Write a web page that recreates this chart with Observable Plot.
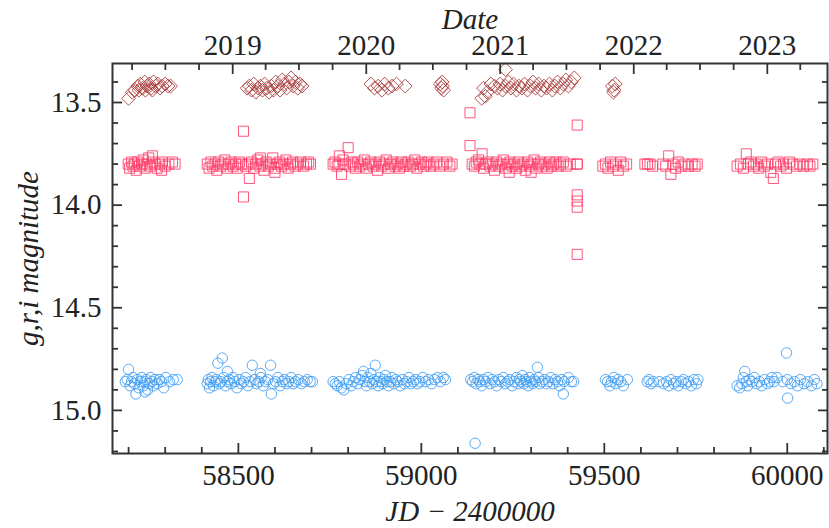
<!DOCTYPE html>
<html>
<head>
<meta charset="utf-8">
<script src="https://cdn.jsdelivr.net/npm/d3@7"></script>
<script src="https://cdn.jsdelivr.net/npm/@observablehq/plot@0.6"></script>
<style>
  html, body { margin: 0; padding: 0; background: #fff; }
</style>
</head>
<body>
<div id="chart"></div>
<script>
// ---- data: i band (diamonds) ----
const iJD = [58200,58210,58218,58225,58232,58238,58244,58250,58256,58262,58268,58274,58280,58286,58292,58300,58308,58315,58228,58246,58265,
  58524,58530,58536,58542,58548,58554,58560,58566,58572,58578,58584,58590,58596,58602,58608,58614,58620,58626,58632,58638,58644,58650,58656,58662,58668,58674,
  58862,58872,58882,58892,58900,58910,58920,58932,58956,
  59052,59055,59058,59061,59057,
  59165,59175,59180,59170,59190,59230,
  59200,59208,59215,59222,59230,59238,59245,59252,59260,59267,59275,59282,59290,59298,59305,59312,59320,59328,59335,59342,59350,59358,59365,59372,59380,59388,59395,59402,59410,59418,
  59522,59527,59530,59525];
const iMag = [13.48,13.45,13.44,13.42,13.41,13.43,13.40,13.42,13.41,13.43,13.40,13.42,13.41,13.43,13.42,13.41,13.42,13.42,13.44,13.44,13.44,
  13.43,13.42,13.44,13.41,13.45,13.43,13.42,13.44,13.41,13.43,13.45,13.42,13.44,13.40,13.42,13.44,13.39,13.41,13.43,13.40,13.38,13.42,13.40,13.43,13.41,13.42,
  13.41,13.43,13.42,13.44,13.41,13.43,13.42,13.41,13.42,
  13.41,13.43,13.42,13.44,13.40,
  13.48,13.47,13.45,13.43,13.41,13.34,
  13.42,13.43,13.41,13.44,13.42,13.40,13.43,13.41,13.44,13.42,13.43,13.41,13.44,13.42,13.40,13.43,13.41,13.44,13.42,13.43,13.41,13.44,13.42,13.40,13.43,13.41,13.39,13.42,13.40,13.38,
  13.42,13.44,13.41,13.45];

// ---- data: r band (squares) ----
const rJD = [58199,58203,58208,58212,58216,58221,58225,58230,58236,58240,58245,58250,58255,58260,58266,58272,58278,58285,58292,58300,58310,58320,58327,58290,58265,
  58415,58420,58425,58430,58436,58441,58446,58452,58458,58463,58469,58474,58480,58486,58492,58497,58503,58509,58514,58514,58520,58526,58530,58536,58542,58548,58553,58559,58565,58570,58576,58582,58588,58594,58600,58606,58612,58618,58624,58630,58636,58642,58648,58655,58662,58670,58678,58686,58692,58697,58600,58560,
  58759,58764,58770,58775,58782,58786,58792,58800,58805,58810,58815,58820,58826,58832,58838,58844,58850,58856,58862,58868,58874,58880,58886,58892,58898,58904,58910,58916,58922,58928,58934,58940,58946,58952,58958,58964,58970,58976,58982,58988,58994,59000,59006,59012,59018,59026,59034,59042,59050,59060,59070,59078,59084,58776,
  59133,59133,
  59139,59145,59150,59156,59160,59166,59170,59176,59182,59188,59194,59200,59206,59212,59218,59224,59230,59236,59242,59248,59254,59260,59266,59272,59278,59284,59290,59296,59302,59308,59314,59320,59326,59332,59338,59344,59350,59356,59362,59368,59374,59380,59388,59396,59407,59300,59240,
  59426,59426,59426,59426,59426,59426,59426,
  59496,59503,59510,59517,59524,59530,59538,59545,59552,59561,
  59611,59618,59625,59632,59660,59668,59676,59682,59688,59695,59702,59710,59720,59730,59740,59748,59754,
  59863,59872,59880,59888,59894,59900,59908,59915,59922,59930,59938,59946,59955,59962,59968,59975,59982,59990,59998,60006,60015,60025,60035,60045,60055,60062,60070];
const rMag = [13.80,13.82,13.79,13.81,13.80,13.83,13.79,13.81,13.80,13.78,13.82,13.80,13.77,13.81,13.79,13.80,13.82,13.80,13.79,13.81,13.80,13.79,13.80,13.83,13.76,
  13.80,13.82,13.79,13.81,13.80,13.83,13.79,13.81,13.80,13.78,13.82,13.80,13.79,13.81,13.80,13.82,13.79,13.80,13.64,13.96,13.81,13.80,13.87,13.79,13.82,13.80,13.78,13.81,13.80,13.83,13.79,13.81,13.80,13.77,13.82,13.80,13.79,13.81,13.80,13.78,13.82,13.80,13.79,13.81,13.80,13.79,13.81,13.80,13.79,13.80,13.84,13.77,
  13.80,13.79,13.81,13.80,13.85,13.78,13.80,13.72,13.81,13.79,13.80,13.82,13.79,13.81,13.80,13.78,13.82,13.80,13.79,13.81,13.80,13.83,13.79,13.81,13.80,13.78,13.82,13.80,13.79,13.81,13.80,13.82,13.79,13.81,13.80,13.79,13.81,13.80,13.78,13.82,13.80,13.79,13.81,13.80,13.79,13.81,13.80,13.79,13.81,13.80,13.79,13.81,13.80,13.76,
  13.55,13.71,
  13.80,13.81,13.79,13.78,13.80,13.75,13.82,13.80,13.79,13.81,13.80,13.83,13.79,13.81,13.80,13.78,13.82,13.80,13.79,13.81,13.80,13.82,13.79,13.81,13.80,13.83,13.79,13.81,13.80,13.78,13.82,13.80,13.79,13.81,13.80,13.82,13.79,13.81,13.80,13.79,13.81,13.80,13.79,13.81,13.80,13.84,13.84,
  13.61,13.80,13.80,13.95,13.98,14.01,14.24,
  13.81,13.80,13.82,13.79,13.81,13.80,13.83,13.79,13.81,13.80,
  13.80,13.80,13.80,13.81,13.80,13.81,13.76,13.85,13.80,13.82,13.79,13.81,13.80,13.81,13.80,13.81,13.80,
  13.81,13.80,13.82,13.75,13.80,13.79,13.81,13.80,13.82,13.79,13.81,13.80,13.84,13.87,13.80,13.79,13.81,13.80,13.82,13.79,13.80,13.81,13.80,13.81,13.80,13.81,13.80];

// ---- data: g band (circles) ----
const gJD = [58191,58196,58200,58204,58208,58212,58216,58220,58224,58228,58232,58236,58240,58244,58248,58252,58256,58260,58264,58268,58272,58278,58284,58290,58296,58302,58312,58322,58333,58245,
  58415,58418,58421,58424,58428,58432,58436,58440,58444,58448,58452,58456,58460,58465,58470,58475,58480,58485,58490,58496,58502,58508,58514,58520,58526,58532,58538,58544,58550,58556,58562,58568,58574,58580,58588,58590,58596,58602,58608,58614,58620,58626,58632,58638,58644,58650,58656,58664,58672,58680,58688,58696,58702,58470,58560,
  58759,58765,58770,58776,58782,58788,58795,58802,58808,58814,58820,58826,58832,58838,58842,58846,58850,58854,58858,58862,58866,58870,58874,58878,58882,58886,58890,58894,58898,58902,58906,58910,58915,58920,58925,58930,58936,58942,58948,58954,58960,58966,58972,58978,58984,58990,58996,59004,59012,59020,59028,59036,59044,59052,59060,59066,
  59135,59140,59145,59150,59155,59160,59147,59165,59170,59176,59182,59188,59194,59200,59206,59212,59218,59224,59230,59236,59242,59248,59254,59260,59264,59268,59272,59276,59280,59284,59288,59292,59296,59300,59304,59308,59312,59317,59320,59324,59330,59336,59342,59348,59354,59360,59366,59372,59378,59384,59390,59388,59402,59410,59416,
  59503,59509,59515,59520,59526,59532,59538,59545,59552,59563,
  59617,59622,59628,59634,59650,59662,59670,59676,59682,59690,59696,59702,59710,59716,59722,59730,59738,59745,59752,59756,
  59863,59870,59876,59880,59884,59888,59892,59896,59904,59910,59916,59924,59930,59938,59946,59952,59958,59964,59972,59998,60001,59988,60000,60010,60020,60028,60036,60046,60056,60066,60074,60081];
const gMag = [14.86,14.85,14.80,14.88,14.86,14.84,14.87,14.92,14.85,14.89,14.86,14.84,14.88,14.86,14.85,14.90,14.87,14.84,14.86,14.88,14.85,14.87,14.85,14.86,14.89,14.84,14.86,14.85,14.85,14.91,
  14.87,14.85,14.89,14.86,14.84,14.88,14.86,14.85,14.77,14.87,14.86,14.745,14.84,14.88,14.86,14.85,14.87,14.84,14.86,14.89,14.85,14.87,14.86,14.84,14.88,14.86,14.78,14.85,14.87,14.86,14.84,14.88,14.86,14.85,14.78,14.92,14.87,14.86,14.84,14.88,14.86,14.85,14.87,14.86,14.84,14.87,14.86,14.85,14.87,14.86,14.85,14.86,14.86,14.81,14.82,
  14.86,14.87,14.88,14.86,14.89,14.90,14.87,14.85,14.88,14.86,14.84,14.87,14.85,14.83,14.81,14.86,14.88,14.84,14.86,14.82,14.87,14.85,14.78,14.86,14.88,14.84,14.86,14.87,14.85,14.83,14.86,14.88,14.86,14.84,14.87,14.85,14.86,14.88,14.85,14.87,14.86,14.84,14.87,14.86,14.85,14.87,14.86,14.84,14.86,14.85,14.87,14.85,14.84,14.86,14.84,14.85,
  14.85,14.86,14.84,14.87,14.85,14.86,15.16,14.88,14.85,14.86,14.84,14.87,14.85,14.86,14.88,14.85,14.86,14.84,14.87,14.86,14.85,14.88,14.86,14.84,14.87,14.85,14.86,14.83,14.87,14.85,14.86,14.88,14.84,14.86,14.87,14.85,14.86,14.79,14.84,14.87,14.86,14.85,14.87,14.86,14.84,14.87,14.85,14.86,14.88,14.85,14.86,14.92,14.84,14.86,14.86,
  14.85,14.86,14.88,14.86,14.84,14.87,14.85,14.86,14.88,14.85,
  14.86,14.85,14.87,14.86,14.86,14.87,14.86,14.88,14.85,14.87,14.86,14.88,14.86,14.85,14.87,14.86,14.88,14.85,14.87,14.85,
  14.88,14.89,14.87,14.84,14.81,14.86,14.88,14.85,14.86,14.84,14.87,14.86,14.88,14.85,14.87,14.86,14.84,14.86,14.84,14.72,14.94,14.86,14.85,14.87,14.86,14.88,14.85,14.87,14.86,14.88,14.85,14.87];

// ---- axes ----
const jdMajor = [58500, 59000, 59500, 60000];
const jdMinor = [58200,58300,58400,58600,58700,58800,58900,59100,59200,59300,59400,59600,59700,59800,59900,60100];
const magMajor = [13.5, 14.0, 14.5, 15.0];
const magMinor = [13.4,13.6,13.7,13.8,13.9,14.1,14.2,14.3,14.4,14.6,14.7,14.8,14.9,15.1,15.2];
const years = [2019, 2020, 2021, 2022, 2023];
const quarterMonths = [3, 6, 9];
const quarterYears = [2018, 2019, 2020, 2021, 2022, 2023];

// calendar date -> JD - 2400000
const toJD = (y, m) => Date.UTC(y, m, 1) / 86400000 + 40587.5;
const yearJD = years.map(y => toJD(y, 0));
const yearLabel = new Map(yearJD.map((j, i) => [j, String(years[i])]));
const quarterJD = quarterYears.flatMap(y => quarterMonths.map(m => toJD(y, m)));

const toRows = (jd, mag) => jd.map((j, k) => ({jd: j, mag: mag[k]}));
const iData = toRows(iJD, iMag);
const rData = toRows(rJD, rMag);
const gData = toRows(gJD, gMag);

const FONT = "Liberation Serif";
const INK = "#222";
const FS = 29;

const chart = Plot.plot({
  width: 829,
  height: 528,
  marginLeft: 112,
  marginRight: 2,
  marginTop: 63,
  marginBottom: 75,
  style: {fontFamily: FONT, fontSize: FS + "px", color: INK, background: "#fff", overflow: "visible"},
  x: {domain: [58156, 60110], label: null},
  y: {domain: [13.31, 15.21], reverse: true, label: null},
  marks: [
    // data
    Plot.dot(gData, {x: "jd", y: "mag", symbol: "circle", r: 5.2, fill: "none", stroke: "#3d9cf5", strokeWidth: 1, strokeOpacity: 0.85}),
    Plot.dot(rData, {x: "jd", y: "mag", symbol: "square2", r: 6.4, fill: "none", stroke: "#ff3864", strokeWidth: 1, strokeOpacity: 0.85}),
    Plot.dot(iData, {x: "jd", y: "mag", symbol: "diamond2", r: 6.2, fill: "none", stroke: "#a83434", strokeWidth: 1, strokeOpacity: 0.85}),
    // inward ticks
    Plot.axisX({anchor: "bottom", ticks: jdMajor, tickSize: -10, text: null, label: null, stroke: "#333", strokeWidth: 1.8}),
    Plot.axisX({anchor: "bottom", ticks: jdMinor, tickSize: -6, text: null, label: null, stroke: "#333", strokeWidth: 1.8}),
    Plot.axisX({anchor: "top", ticks: yearJD, tickSize: -10, text: null, label: null, stroke: "#333", strokeWidth: 1.8}),
    Plot.axisX({anchor: "top", ticks: quarterJD, tickSize: -6, text: null, label: null, stroke: "#333", strokeWidth: 1.8}),
    Plot.axisY({anchor: "left", ticks: magMajor, tickSize: -10, text: null, label: null, stroke: "#333", strokeWidth: 1.8}),
    Plot.axisY({anchor: "left", ticks: magMinor, tickSize: -6, text: null, label: null, stroke: "#333", strokeWidth: 1.8}),
    Plot.axisY({anchor: "right", ticks: magMajor, tickSize: -10, text: null, label: null, stroke: "#333", strokeWidth: 1.8}),
    Plot.axisY({anchor: "right", ticks: magMinor, tickSize: -6, text: null, label: null, stroke: "#333", strokeWidth: 1.8}),
    // tick labels
    Plot.axisX({anchor: "bottom", ticks: jdMajor, tickSize: 0, tickPadding: 11, tickFormat: d => String(d), label: null, fontSize: FS, fill: INK}),
    Plot.axisX({anchor: "top", ticks: yearJD, tickSize: 0, tickPadding: 9, tickFormat: d => yearLabel.get(d), label: null, fontSize: FS, fill: INK}),
    Plot.axisY({anchor: "left", ticks: magMajor, tickSize: 0, tickPadding: 11, tickFormat: d => d.toFixed(1), label: null, fontSize: FS, fill: INK}),
    Plot.frame({stroke: "#333", strokeWidth: 2}),
    // axis titles
    Plot.text(["Date"], {text: d => d, frameAnchor: "top", dy: -44, textAnchor: "middle", lineAnchor: "middle", fontStyle: "italic", fontSize: FS, fill: INK}),
    Plot.text(["JD \u2212 2400000"], {text: d => d, frameAnchor: "bottom", dy: 58, textAnchor: "middle", lineAnchor: "middle", fontStyle: "italic", fontSize: FS, fill: INK}),
    Plot.text(["g,r,i magnitude"], {text: d => d, frameAnchor: "left", dx: -84, rotate: -90, textAnchor: "middle", lineAnchor: "middle", fontStyle: "italic", fontSize: FS, fill: INK})
  ]
});
document.getElementById("chart").appendChild(chart);
</script>
</body>
</html>
